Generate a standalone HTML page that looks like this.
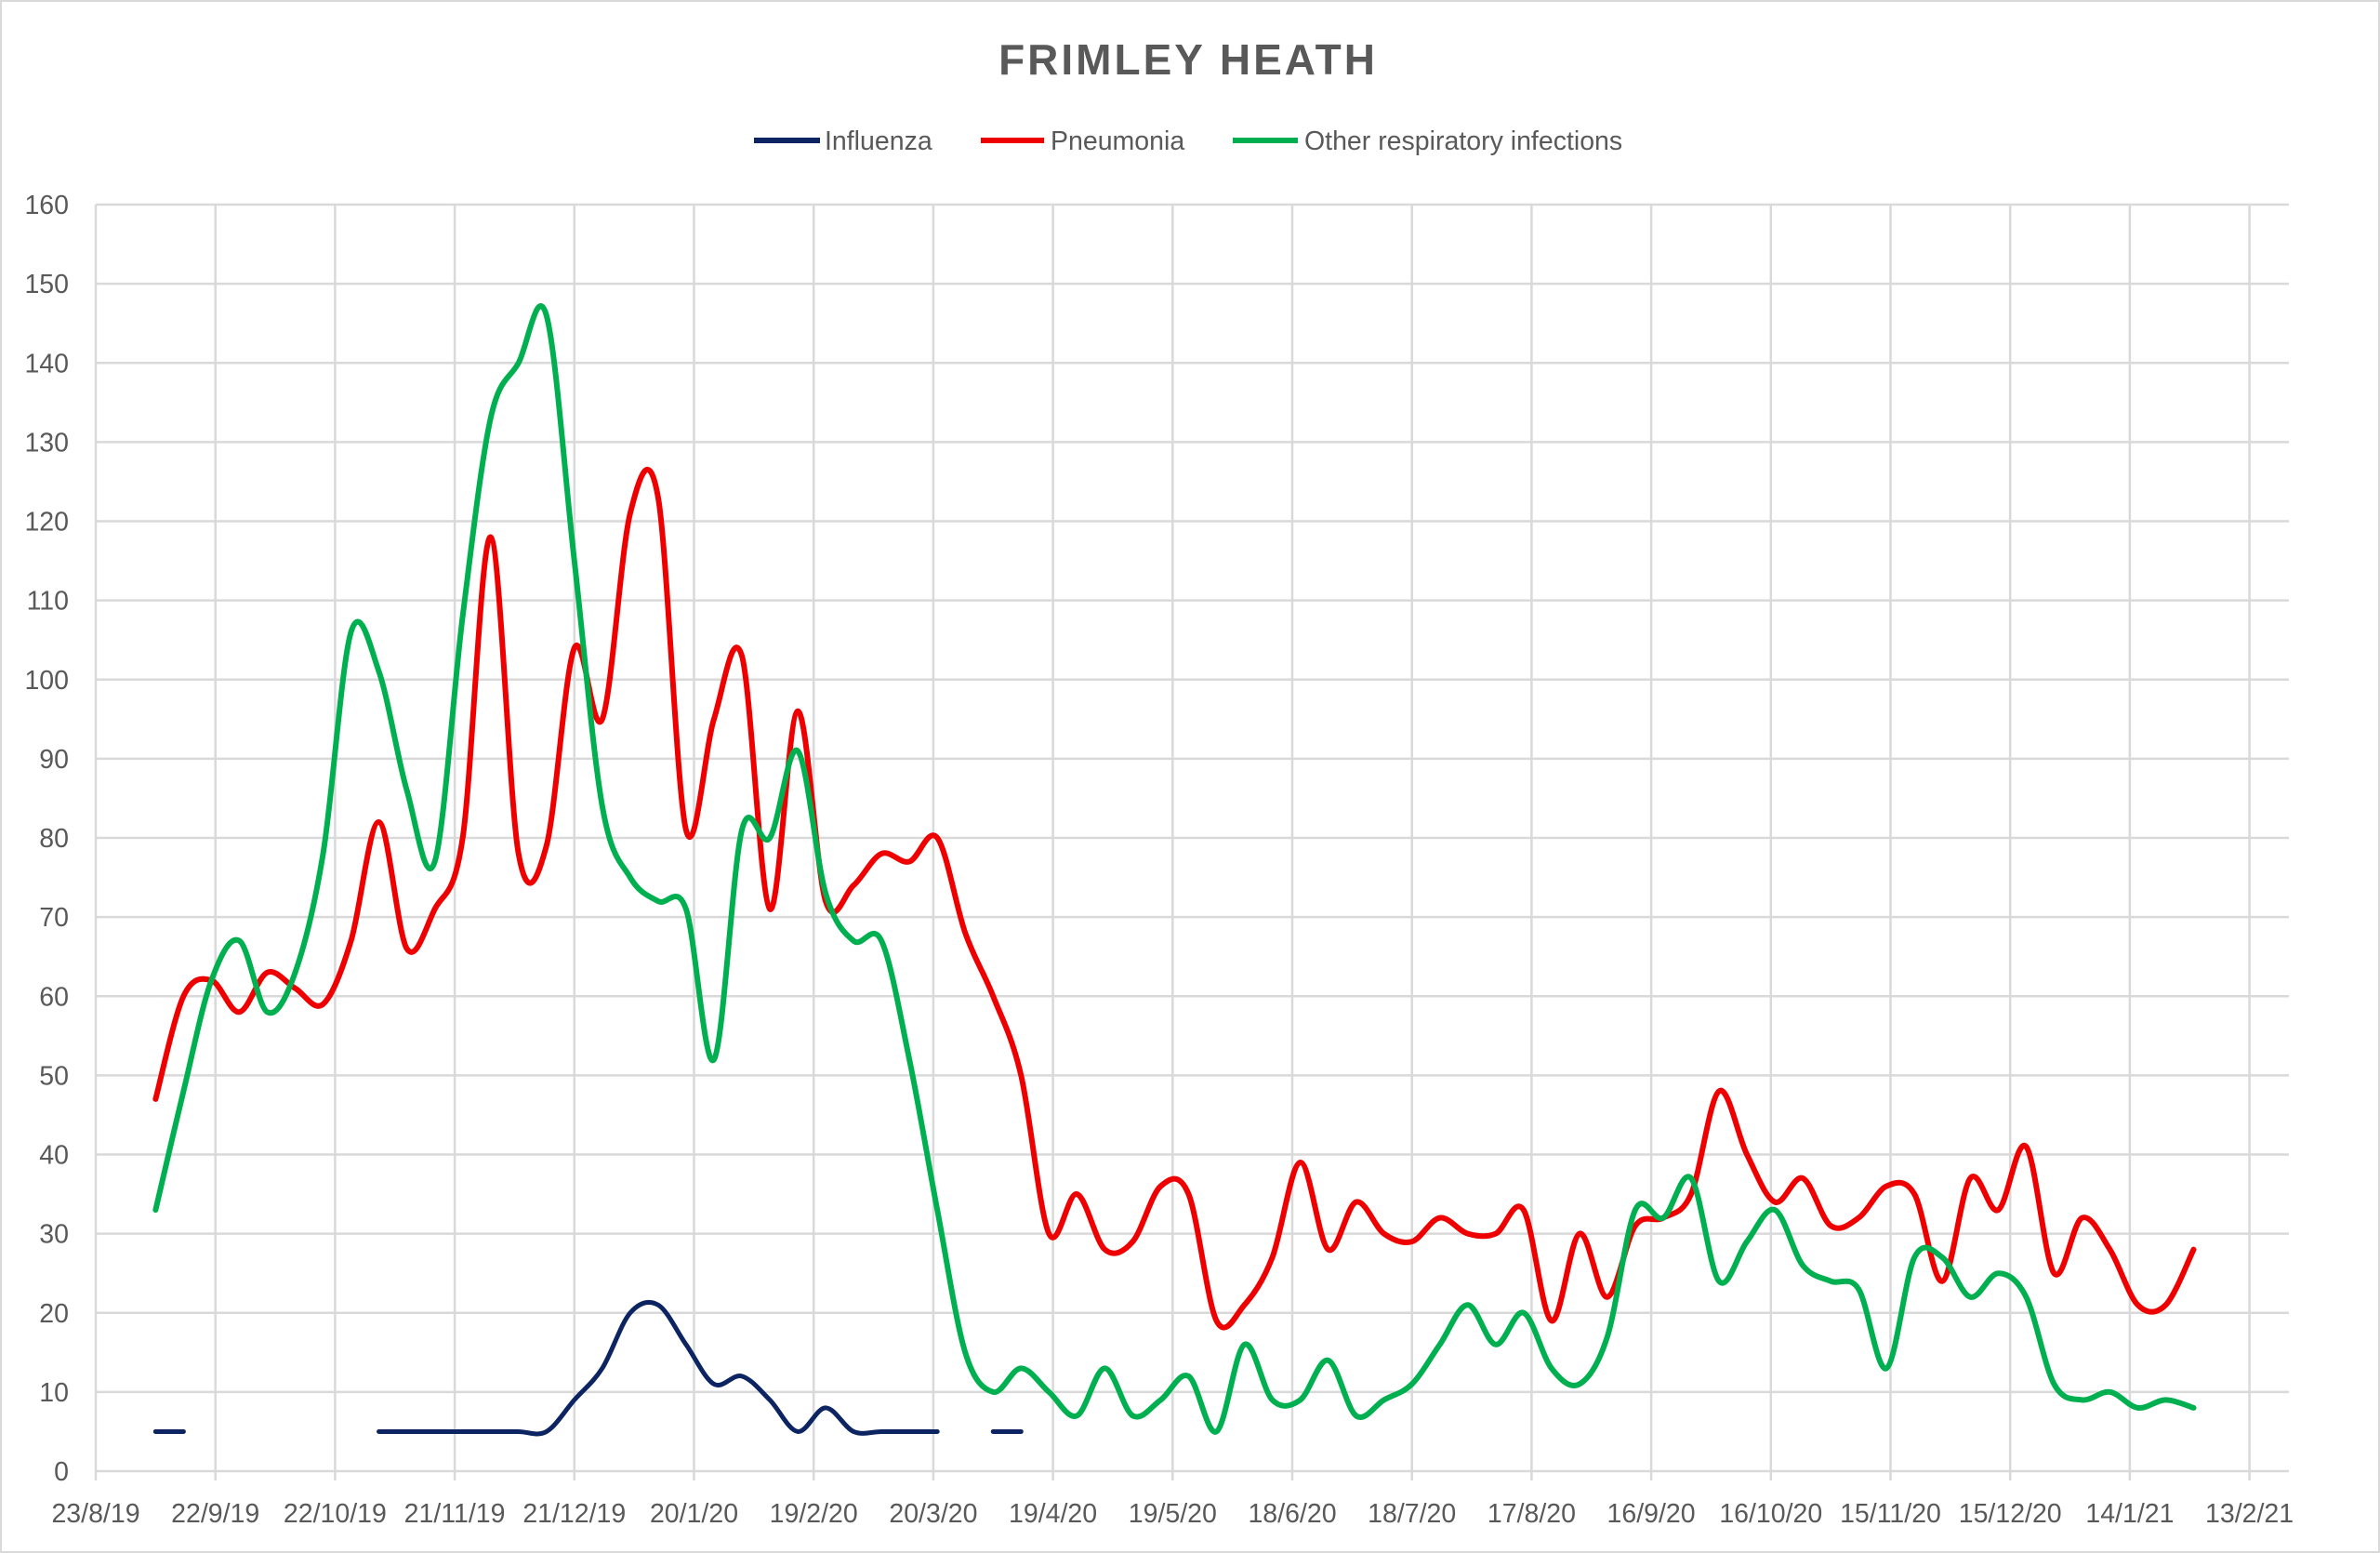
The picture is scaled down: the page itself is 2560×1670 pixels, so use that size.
<!DOCTYPE html>
<html><head><meta charset="utf-8"><style>
body{margin:0;background:#fff;}
svg{display:block;font-family:"Liberation Sans",sans-serif;}
</style></head><body>
<svg id="chart" width="2560" height="1670" viewBox="0 0 2560 1670" xmlns="http://www.w3.org/2000/svg">
<rect x="1" y="1" width="2558" height="1668" fill="#fff" stroke="#d9d9d9" stroke-width="2"/>
<text x="1278" y="80" text-anchor="middle" font-size="46" font-weight="bold" fill="#595959" letter-spacing="3">FRIMLEY HEATH</text>
<g>
<g><line x1="811" y1="151" x2="882" y2="151" stroke="#0c2461" stroke-width="6"/><text x="887" y="161" font-size="28.5" fill="#595959">Influenza</text></g>
<g><line x1="1055" y1="151" x2="1123" y2="151" stroke="#ee0000" stroke-width="6"/><text x="1130" y="161" font-size="28.5" fill="#595959">Pneumonia</text></g>
<g><line x1="1326" y1="151" x2="1396" y2="151" stroke="#00b050" stroke-width="6"/><text x="1403" y="161" font-size="28.5" fill="#595959">Other respiratory infections</text></g>
</g>
<g id="grid"></g>
<g id="axes"></g>
<g id="series"></g>
</svg>
<script>
const xTickLabels=["23/8/19","22/9/19","22/10/19","21/11/19","21/12/19","20/1/20","19/2/20","20/3/20","19/4/20","19/5/20","18/6/20","18/7/20","17/8/20","16/9/20","16/10/20","15/11/20","15/12/20","14/1/21","13/2/21"];
const yTicks=[0,10,20,30,40,50,60,70,80,90,100,110,120,130,140,150,160];
const weekOffsetDays=15;
const pneumonia=[47,60,62,58,63,61,59,67,82,66,71,80,118,78,79,104,95,121,123,81,95,103,71,96,72,74,78,77,80,68,60,50,30,35,28,29,36,35,19,21,27,39,28,34,30,29,32,30,30,33,19,30,22,31,32,35,48,40,34,37,31,32,36,35,24,37,33,41,25,32,28,21,21,28];
const otherResp=[33,48,62,67,58,63,78,106,101,86,77,108,133,140,146,115,84,75,72,71,52,81,80,91,73,67,67,52,33,15,10,13,10,7,13,7,9,12,5,16,9,9,14,7,9,11,16,21,16,20,13,11,17,33,32,37,24,29,33,26,24,23,13,27,27,22,25,22,11,9,10,8,9,8];
const influenza=[5,5,null,null,null,null,null,null,5,5,5,5,5,5,5,9,13,20,21,16,11,12,9,5,8,5,5,5,5,null,5,5,null,null,null,null,null,null,null,null,null,null,null,null,null,null,null,null,null,null,null,null,null,null,null,null,null,null,null,null,null,null,null,null,null,null,null,null,null,null,null,null,null,null];

const NS="http://www.w3.org/2000/svg";
const X0=103,PX_PER_DAY=128.7/30,Y0=1582,PX_PER_UNIT=(1582-220)/160,XR=2462;
function xDay(d){return X0+d*PX_PER_DAY;}
function xIdx(i){return xDay(weekOffsetDays+i*7);}
function y(v){return Y0-v*PX_PER_UNIT;}
const grid=document.getElementById('grid'),axes=document.getElementById('axes'),series=document.getElementById('series');
yTicks.forEach(t=>{
  const l=document.createElementNS(NS,'line');
  l.setAttribute('x1',X0);l.setAttribute('x2',XR);l.setAttribute('y1',y(t));l.setAttribute('y2',y(t));
  l.setAttribute('stroke','#d9d9d9');l.setAttribute('stroke-width','2.5');
  
  
  grid.appendChild(l);
  const tx=document.createElementNS(NS,'text');
  tx.setAttribute('x',74);tx.setAttribute('y',y(t)+10);tx.setAttribute('text-anchor','end');
  tx.setAttribute('font-size','28.5');tx.setAttribute('fill','#595959');tx.textContent=t;
  
  
  axes.appendChild(tx);
});
xTickLabels.forEach((lab,i)=>{
  const x=xDay(i*30);
  const l=document.createElementNS(NS,'line');
  l.setAttribute('x1',x);l.setAttribute('x2',x);l.setAttribute('y1',y(160));l.setAttribute('y2',Y0+10);
  l.setAttribute('stroke','#d9d9d9');l.setAttribute('stroke-width','2.5');
  
  
  grid.appendChild(l);
  const tx=document.createElementNS(NS,'text');
  tx.setAttribute('x',x);tx.setAttribute('y',1637);tx.setAttribute('text-anchor','middle');
  tx.setAttribute('font-size','28.5');tx.setAttribute('fill','#595959');tx.textContent=lab;
  
  
  axes.appendChild(tx);
});
function smoothPath(pts){
  let d='M'+pts[0][0]+','+pts[0][1];
  if(pts.length===1) return d;
  for(let i=0;i<pts.length-1;i++){
    const p0=pts[Math.max(0,i-1)],p1=pts[i],p2=pts[i+1],p3=pts[Math.min(pts.length-1,i+2)];
    const t=1/6;
    const c1=[p1[0]+(p2[0]-p0[0])*t,p1[1]+(p2[1]-p0[1])*t];
    const c2=[p2[0]-(p3[0]-p1[0])*t,p2[1]-(p3[1]-p1[1])*t];
    d+=' C'+c1[0]+','+c1[1]+' '+c2[0]+','+c2[1]+' '+p2[0]+','+p2[1];
  }
  return d;
}
function drawSeries(vals,color,w,name){
  let seg=[];const segs=[];
  vals.forEach((v,i)=>{if(v===null){if(seg.length)segs.push(seg);seg=[];}else seg.push([xIdx(i),y(v)]);});
  if(seg.length)segs.push(seg);
  segs.forEach(s=>{
    const p=document.createElementNS(NS,'path');
    p.setAttribute('d',smoothPath(s));p.setAttribute('fill','none');p.setAttribute('stroke',color);
    p.setAttribute('stroke-width',w);p.setAttribute('stroke-linecap','round');p.setAttribute('stroke-linejoin','round');
    
    
    series.appendChild(p);
  });
}
drawSeries(influenza,'#0c2461',5,'influenza-line');
drawSeries(pneumonia,'#ee0000',6,'pneumonia-line');
drawSeries(otherResp,'#00b050',6,'other-respiratory-line');
</script>
</body></html>
